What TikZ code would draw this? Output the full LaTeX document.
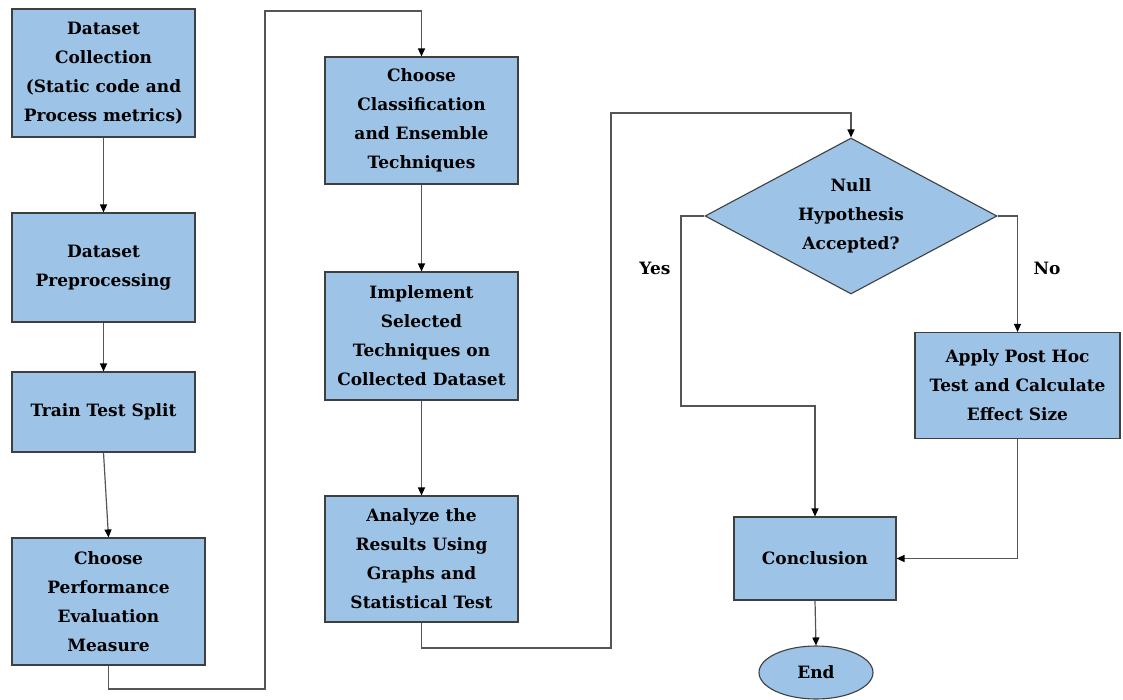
\documentclass[tikz,border=0pt]{standalone}
\usepackage{fontspec}
\setmainfont{DejaVu Serif}
\usetikzlibrary{arrows.meta,shapes.geometric}
\definecolor{boxfill}{HTML}{9DC3E6}
\definecolor{boxline}{HTML}{3F3F3F}
\definecolor{wire}{HTML}{555555}
\tikzset{
  txt/.style={font=\rmfamily\bfseries\fontsize{17}{29}\selectfont, text=black},
  stepbox/.style={txt, draw=boxline, line width=1.1pt, fill=boxfill, align=center,
    inner sep=0pt, rectangle},
  decision/.style={txt, draw=boxline, line width=1.1pt, fill=boxfill, align=center,
    diamond, aspect=1.87, inner sep=0pt},
  terminal/.style={txt, draw=boxline, line width=1.1pt, fill=boxfill, align=center,
    ellipse, inner sep=0pt},
  flow/.style={draw=wire, line width=1.2pt, -{Triangle[length=8pt,width=7pt,color=black]}},
}
\begin{document}
\begin{tikzpicture}[x=1pt, y=-1pt]
\useasboundingbox (0,0) rectangle (1123,700);

% first column
\node[stepbox, minimum width=183pt, minimum height=128pt] (collect) at (103.5,73)
  {Dataset\\Collection\\(Static code and\\Process metrics)};
\node[stepbox, minimum width=183pt, minimum height=109pt] (prep) at (103.5,267.5)
  {Dataset\\Preprocessing};
\node[stepbox, minimum width=183pt, minimum height=80pt] (split) at (103.5,412)
  {Train Test Split};
\node[stepbox, minimum width=193pt, minimum height=127pt] (measure) at (108.5,601.5)
  {Choose\\Performance\\Evaluation\\Measure};

% second column
\node[stepbox, minimum width=193pt, minimum height=127pt] (choose) at (421.5,120.5)
  {Choose\\Classification\\and Ensemble\\Techniques};
\node[stepbox, minimum width=193pt, minimum height=128pt] (implement) at (421.5,336)
  {Implement\\Selected\\Techniques on\\Collected Dataset};
\node[stepbox, minimum width=193pt, minimum height=126pt] (analyze) at (421.5,559)
  {Analyze the\\Results Using\\Graphs and\\Statistical Test};

% decision part
\node[decision, minimum width=292pt, minimum height=156pt] (null) at (851,216)
  {Null\\Hypothesis\\Accepted?};
\node[stepbox, minimum width=205pt, minimum height=106pt] (posthoc) at (1017.5,385.5)
  {Apply Post Hoc\\Test and Calculate\\Effect Size};
\node[stepbox, minimum width=162pt, minimum height=83pt] (concl) at (815,558.5)
  {Conclusion};
\node[terminal, minimum width=114pt, minimum height=53pt] (end) at (816,672.5)
  {End};

\node[txt] (yes) at (655,268) {Yes};
\node[txt] (no) at (1047,268) {No};

% helper points for routed connectors
\coordinate (m1) at (108.5,689);
\coordinate (m2) at (265,689);
\coordinate (m3) at (265,11);
\coordinate (m4) at (421.5,11);
\coordinate (a1) at (421.5,648);
\coordinate (a2) at (611,648);
\coordinate (a3) at (611,113);
\coordinate (a4) at (851,113);
\coordinate (y1) at (681,216);
\coordinate (y2) at (681,406);
\coordinate (y3) at (815,406);
\coordinate (n1) at (1017.5,216);
\coordinate (p1) at (1017.5,558.5);

% connectors
\draw[flow] (collect.south) -- (prep.north);
\draw[flow] (prep.south) -- (split.north);
\draw[flow] (split.south) -- (measure.north);
\draw[flow] (measure.south) -- (m1) -- (m2) -- (m3) -- (m4) -- (choose.north);
\draw[flow] (choose.south) -- (implement.north);
\draw[flow] (implement.south) -- (analyze.north);
\draw[flow] (analyze.south) -- (a1) -- (a2) -- (a3) -- (a4) -- (null.north);
\draw[flow] (null.west) -- (y1) -- (y2) -- (y3) -- (concl.north);
\draw[flow] (null.east) -- (n1) -- (posthoc.north);
\draw[flow] (posthoc.south) -- (p1) -- (concl.east);
\draw[flow] (concl.south) -- (end.north);
\end{tikzpicture}
\end{document}
